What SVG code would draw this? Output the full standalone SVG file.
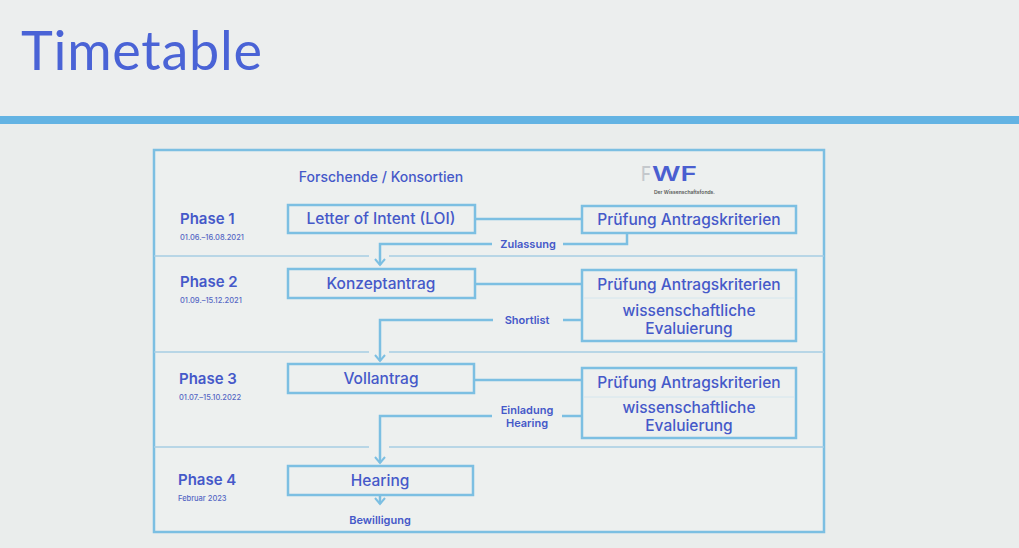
<svg xmlns="http://www.w3.org/2000/svg" width="1019" height="548" viewBox="0 0 1019 548">
<defs>
<style>
.t{font-family:Inter,"Noto Sans","Liberation Sans",sans-serif;fill:#4559c9;text-anchor:middle}
.box{fill:none;stroke:#7cbfe2;stroke-width:2.5}
.sep{stroke:#a6cde3;stroke-width:1.5;fill:none}
.con{stroke:#7cbfe2;stroke-width:2.5;fill:none}
.ph{font-family:Inter,"Noto Sans","Liberation Sans",sans-serif;fill:#4559c9;font-size:15px;font-weight:600}
.dt{font-family:Inter,"Noto Sans","Liberation Sans",sans-serif;fill:#5567c4;font-size:7.5px;font-weight:500}
.lb{font-size:15.5px;font-weight:500}
.sm{font-size:11px;font-weight:600}
</style>
<marker id="ar" viewBox="-8 -6 10 12" refX="0" refY="0" markerWidth="10" markerHeight="12" markerUnits="userSpaceOnUse" orient="auto">
<path d="M-6,-5 L0,0 L-6,5" fill="none" stroke="#7cbfe2" stroke-width="2"/>
</marker>
</defs>
<rect width="1019" height="548" fill="#eaedec"/>
<rect width="1019" height="116" fill="#eceeee"/>
<text x="21" y="70" font-family="Lato,'Open Sans',sans-serif" font-size="54" fill="#4a63d6" textLength="241" lengthAdjust="spacing">Timetable</text>
<rect x="0" y="116" width="1019" height="8" fill="#63b3e3"/>
<g id="frame">
<rect x="154" y="150" width="670" height="382" fill="#edf0ef" stroke="#7cbfe2" stroke-width="2.5"/>
<path class="sep" d="M154,256 H369 M389,256 H824 M154,352 H369 M389,352 H824 M154,447 H369 M389,447 H824"/>
</g>
<g id="header">
<text class="t" x="381" y="182" font-size="14" font-weight="500">Forschende / Konsortien</text>
<text x="641" y="181" font-family="Inter,'Liberation Sans',sans-serif" font-size="20" font-weight="500" fill="#c4c8cc" textLength="10" lengthAdjust="spacingAndGlyphs">F</text>
<text x="652" y="181" font-family="Inter,'Liberation Sans',sans-serif" font-size="20" font-weight="600" fill="#4a5fd0" textLength="45" lengthAdjust="spacingAndGlyphs">WF</text>
<text x="654" y="194" font-family="Inter,'Liberation Sans',sans-serif" font-size="5" font-weight="600" fill="#555">Der Wissenschaftsfonds.</text>
</g>
<g id="phases">
<text class="ph" x="180" y="224">Phase 1</text>
<text class="dt" x="180" y="240">01.06.–16.08.2021</text>
<text class="ph" x="180" y="287">Phase 2</text>
<text class="dt" x="180" y="303">01.09.–15.12.2021</text>
<text class="ph" x="179" y="384">Phase 3</text>
<text class="dt" x="179" y="400">01.07.–15.10.2022</text>
<text class="ph" x="178" y="485">Phase 4</text>
<text class="dt" x="178" y="501">Februar 2023</text>
</g>
<g id="loi">
<rect class="box" x="288" y="205" width="187" height="28"/>
<text class="t lb" x="381" y="224">Letter of Intent (LOI)</text>
</g>
<g id="konzept">
<rect class="box" x="288" y="269" width="187" height="29"/>
<text class="t lb" x="381" y="289">Konzeptantrag</text>
</g>
<g id="voll">
<rect class="box" x="288" y="364" width="186" height="29"/>
<text class="t lb" x="381" y="384">Vollantrag</text>
</g>
<g id="hearing">
<rect class="box" x="288" y="466" width="185" height="29"/>
<text class="t lb" x="380" y="486">Hearing</text>
</g>
<g id="pruef1">
<rect class="box" x="582" y="206" width="214" height="27"/>
<text class="t lb" x="689" y="225">Prüfung Antragskriterien</text>
</g>
<g id="pruef2">
<rect class="box" x="582" y="270" width="214" height="71"/>
<line x1="584" y1="298" x2="794" y2="298" stroke="#d4e6ee" stroke-width="1"/>
<text class="t lb" x="689" y="290">Prüfung Antragskriterien</text>
<text class="t lb" x="689" y="316">wissenschaftliche</text>
<text class="t lb" x="689" y="334">Evaluierung</text>
</g>
<g id="pruef3">
<rect class="box" x="582" y="368" width="214" height="70"/>
<line x1="584" y1="397" x2="794" y2="397" stroke="#d4e6ee" stroke-width="1"/>
<text class="t lb" x="689" y="388">Prüfung Antragskriterien</text>
<text class="t lb" x="689" y="413">wissenschaftliche</text>
<text class="t lb" x="689" y="431">Evaluierung</text>
</g>
<g id="connectors">
<line class="con" x1="475" y1="219" x2="582" y2="219"/>
<line class="con" x1="475" y1="284" x2="582" y2="284"/>
<line class="con" x1="474" y1="380" x2="582" y2="380"/>
<path class="con" d="M627,233 V244 H563 M492,244 H380 V265" marker-end="url(#ar)"/>
<path class="con" d="M582,320 H563 M493,320 H380 V361" marker-end="url(#ar)"/>
<path class="con" d="M582,416 H562 M492,416 H380 V463" marker-end="url(#ar)"/>
<path class="con" d="M380,496 V504" marker-end="url(#ar)"/>
<text class="t sm" x="528" y="248">Zulassung</text>
<text class="t sm" x="527" y="324">Shortlist</text>
<text class="t sm" x="527" y="414">Einladung</text>
<text class="t sm" x="527" y="427">Hearing</text>
<text class="t sm" x="380" y="524">Bewilligung</text>
</g>
</svg>
